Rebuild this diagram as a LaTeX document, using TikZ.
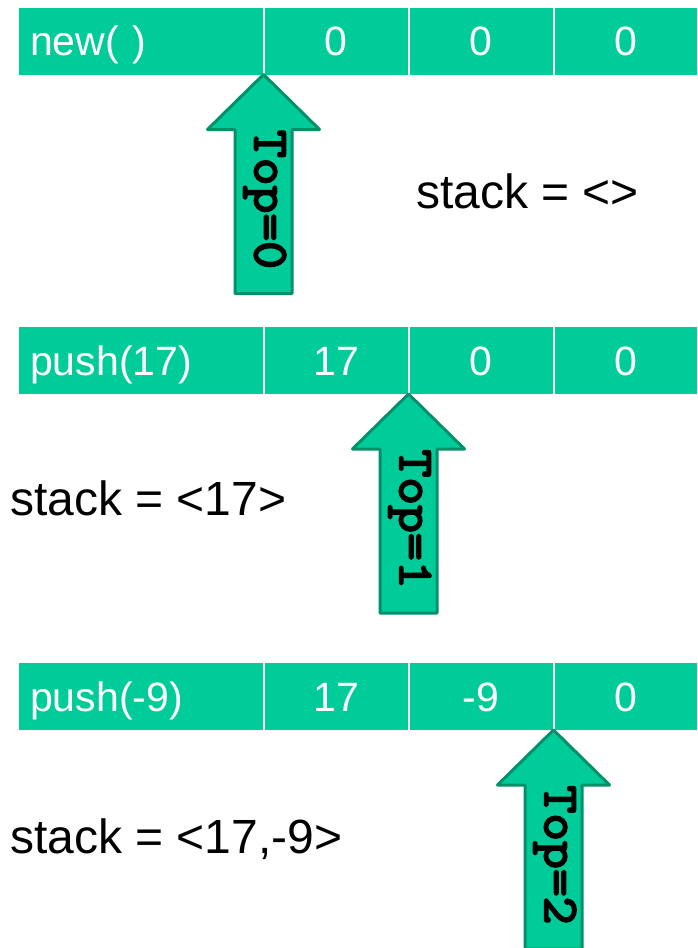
\documentclass[tikz,border=0pt]{standalone}
\usepackage{fontspec}
\setmainfont{Liberation Sans}
\newfontfamily\slabmono{Latin Modern Mono}[FakeBold=4, FakeStretch=1.08]
\definecolor{cellgreen}{RGB}{0,204,153}
\definecolor{edgegreen}{RGB}{0,145,105}
\tikzset{
  cellbox/.style={fill=cellgreen, text=white, anchor=north west, inner sep=0pt,
    minimum height=67pt, text height=29pt, text depth=0pt,
    font=\fontsize{41}{41}\selectfont},
  opcell/.style={cellbox, text width=221.5pt, inner xsep=11pt, align=left},
  valcell/.style={cellbox, minimum width=143pt},
  stacktext/.style={anchor=base west, inner sep=0pt, font=\fontsize{48}{48}\selectfont},
  arrowbody/.style={fill=cellgreen, draw=edgegreen, line width=3pt, line join=round},
  toplabel/.style={rotate=-90, inner sep=0pt, text height=30.5pt, text depth=11pt,
    font=\slabmono\fontsize{50}{50}\selectfont},
  toparrow/.pic={
    \path[arrowbody] (0,0) -- (56,55) -- (28.5,55) -- (28.5,219) -- (-28.5,219)
      -- (-28.5,55) -- (-56,55) -- cycle;
    \coordinate (-mid) at (1,125);
  }
}
\begin{document}
\begin{tikzpicture}[x=1pt,y=-1pt]
\useasboundingbox (0,0) rectangle (698,948);

% row 1: new()
\node[opcell]  (op0) at (19,7.5)    {new( )};
\node[valcell] (c01) at (264.5,7.5) {0};
\node[valcell] (c02) at (409.5,7.5) {0};
\node[valcell, minimum width=142.5pt] (c03) at (554.5,7.5) {0};

% row 2: push(17)
\node[opcell]  (op1) at (19,327)    {push(17)};
\node[valcell] (c11) at (264.5,327) {17};
\node[valcell] (c12) at (409.5,327) {0};
\node[valcell, minimum width=142.5pt] (c13) at (554.5,327) {0};

% row 3: push(-9)
\node[opcell]  (op2) at (19,663)    {push(-9)};
\node[valcell] (c21) at (264.5,663) {17};
\node[valcell] (c22) at (409.5,663) {-9};
\node[valcell, minimum width=142.5pt] (c23) at (554.5,663) {0};

% top-of-stack pointers
\pic (a0) at (263.5,74.5) {toparrow};
\node[toplabel] (t0) at (a0-mid) {Top=0};
\pic (a1) at (408.5,394) {toparrow};
\node[toplabel] (t1) at (a1-mid) {Top=1};
\pic (a2) at (553.5,730) {toparrow};
\node[toplabel] (t2) at (a2-mid) {Top=2};

% stack contents
\node[stacktext] (s0) at (416,208) {stack = <>};
\node[stacktext] (s1) at (10,515)  {stack = <17>};
\node[stacktext] (s2) at (10,853)  {stack = <17,-9>};
\end{tikzpicture}
\end{document}
